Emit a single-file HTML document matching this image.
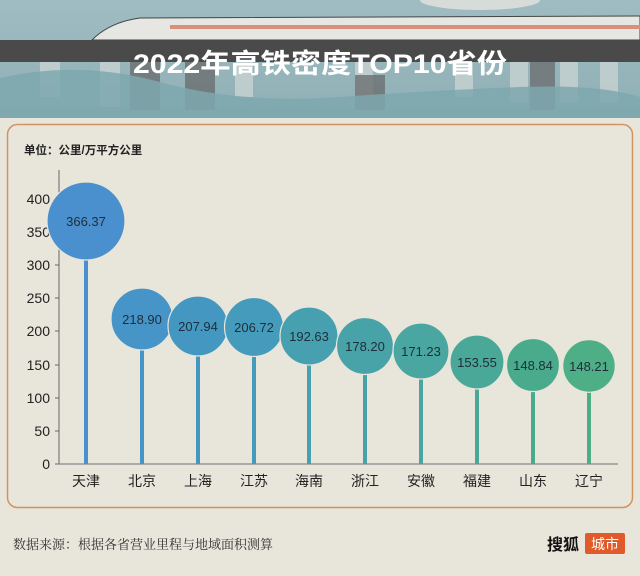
<!DOCTYPE html>
<html><head><meta charset="utf-8"><style>
html,body{margin:0;padding:0;}
body{width:640px;height:576px;background:#e8e5da;position:relative;overflow:hidden;font-family:"Liberation Sans","Noto Sans CJK SC",sans-serif;}
</style></head><body>
<svg width="640" height="576" viewBox="0 0 640 576" xmlns="http://www.w3.org/2000/svg" style="position:absolute;left:0;top:0">
<defs>
<linearGradient id="sky" x1="0" y1="0" x2="0" y2="1">
<stop offset="0" stop-color="#9fbcc2"/><stop offset="1" stop-color="#8fb0b6"/>
</linearGradient>
</defs>
<rect x="0" y="0" width="640" height="118" fill="url(#sky)"/>
<ellipse cx="480" cy="0" rx="60" ry="10" fill="#d8dcd8"/>
<path d="M92 40 Q110 22 140 18 L640 16 L640 40 Z" fill="#e6e6e2" stroke="#444" stroke-width="1"/>
<rect x="170" y="25" width="470" height="4" fill="#d98f7a"/>
<rect x="0" y="40" width="640" height="22" fill="#4a4a4a"/>
<g fill="#c8d2d2" opacity="0.8">
<rect x="40" y="62" width="20" height="35"/><rect x="100" y="62" width="20" height="45"/>
<rect x="235" y="62" width="18" height="35"/><rect x="355" y="62" width="18" height="35"/>
<rect x="455" y="62" width="18" height="35"/><rect x="510" y="62" width="18" height="40"/>
<rect x="560" y="62" width="18" height="40"/><rect x="600" y="62" width="18" height="40"/>
</g>
<g fill="#6b6f70" opacity="0.8">
<rect x="130" y="62" width="30" height="48"/><rect x="185" y="62" width="30" height="48"/>
<rect x="355" y="75" width="30" height="35"/><rect x="530" y="62" width="25" height="48"/>
</g>
<path d="M0 78 Q80 60 160 82 T340 97 T520 87 T640 97 L640 118 L0 118 Z" fill="#7ea8ae" opacity="0.85"/>
<text x="320" y="73" text-anchor="middle" font-size="27" font-weight="bold" fill="#fff" textLength="374" lengthAdjust="spacingAndGlyphs" font-family="Liberation Sans,Noto Sans CJK SC,sans-serif">2022年高铁密度TOP10省份</text>
<rect x="0" y="118" width="640" height="458" fill="#e8e5da"/>
<rect x="7.5" y="124.5" width="625" height="383" rx="10" fill="#e8e5da" stroke="#d39360" stroke-width="1.5"/>
<text x="24" y="154" font-size="11.5" font-weight="bold" fill="#222">单位：公里/万平方公里</text>
<line x1="59" y1="170" x2="59" y2="464" stroke="#666" stroke-width="1"/>
<line x1="59" y1="464" x2="618" y2="464" stroke="#888" stroke-width="1.2"/>
<g font-size="14" fill="#222" text-anchor="end">
<text x="50" y="469">0</text><text x="50" y="436">50</text><text x="50" y="403">100</text>
<text x="50" y="370">150</text><text x="50" y="336">200</text><text x="50" y="303">250</text>
<text x="50" y="270">300</text><text x="50" y="237">350</text><text x="50" y="204">400</text>
</g>
<g stroke="#666"><line x1="55" y1="464" x2="59" y2="464"/><line x1="55" y1="431" x2="59" y2="431"/><line x1="55" y1="398" x2="59" y2="398"/><line x1="55" y1="365" x2="59" y2="365"/><line x1="55" y1="331" x2="59" y2="331"/><line x1="55" y1="298" x2="59" y2="298"/><line x1="55" y1="265" x2="59" y2="265"/><line x1="55" y1="232" x2="59" y2="232"/><line x1="55" y1="199" x2="59" y2="199"/></g>
<g stroke-width="4">
<line x1="86" y1="221" x2="86" y2="464" stroke="#4a90cf"/>
<line x1="142" y1="319" x2="142" y2="464" stroke="#4694c8"/>
<line x1="198" y1="326" x2="198" y2="464" stroke="#4497c0"/>
<line x1="254" y1="327" x2="254" y2="464" stroke="#459bbb"/>
<line x1="309" y1="336" x2="309" y2="464" stroke="#46a0b0"/>
<line x1="365" y1="346" x2="365" y2="464" stroke="#48a3a8"/>
<line x1="421" y1="351" x2="421" y2="464" stroke="#4aa6a0"/>
<line x1="477" y1="362" x2="477" y2="464" stroke="#4aa898"/>
<line x1="533" y1="365" x2="533" y2="464" stroke="#4aab8c"/>
<line x1="589" y1="366" x2="589" y2="464" stroke="#4eae86"/>
</g>
<g stroke="#e8e5da" stroke-width="1.2">
<circle cx="86" cy="221" r="39" fill="#4a90cf"/>
<circle cx="142" cy="319" r="31" fill="#4694c8"/>
<circle cx="198" cy="326" r="30" fill="#4497c0"/>
<circle cx="254" cy="327" r="29.5" fill="#459bbb"/>
<circle cx="309" cy="336" r="29" fill="#46a0b0"/>
<circle cx="365" cy="346" r="28.5" fill="#48a3a8"/>
<circle cx="421" cy="351" r="28" fill="#4aa6a0"/>
<circle cx="477" cy="362" r="27" fill="#4aa898"/>
<circle cx="533" cy="365" r="26.5" fill="#4aab8c"/>
<circle cx="589" cy="366" r="26.3" fill="#4eae86"/>
</g>
<g font-size="13" fill="#1e2e3a" text-anchor="middle">
<text x="86" y="226">366.37</text><text x="142" y="324">218.90</text><text x="198" y="331">207.94</text>
<text x="254" y="332">206.72</text><text x="309" y="341">192.63</text><text x="365" y="351">178.20</text>
<text x="421" y="356">171.23</text><text x="477" y="367">153.55</text><text x="533" y="370">148.84</text>
<text x="589" y="371">148.21</text>
</g>
<g font-size="14" fill="#222" text-anchor="middle">
<text x="86" y="486">天津</text><text x="142" y="486">北京</text><text x="198" y="486">上海</text>
<text x="254" y="486">江苏</text><text x="309" y="486">海南</text><text x="365" y="486">浙江</text>
<text x="421" y="486">安徽</text><text x="477" y="486">福建</text><text x="533" y="486">山东</text>
<text x="589" y="486">辽宁</text>
</g>
<text x="13" y="549" font-size="13" fill="#333" font-family="Liberation Serif,Noto Serif CJK SC,serif">数据来源：根据各省营业里程与地域面积测算</text>
<text x="547" y="550" font-size="16" font-weight="bold" fill="#111">搜狐</text>
<rect x="585" y="533" width="40" height="21" rx="2" fill="#e05a2a"/>
<text x="605" y="549" font-size="14" fill="#fff" text-anchor="middle">城市</text>
</svg>
</body></html>
